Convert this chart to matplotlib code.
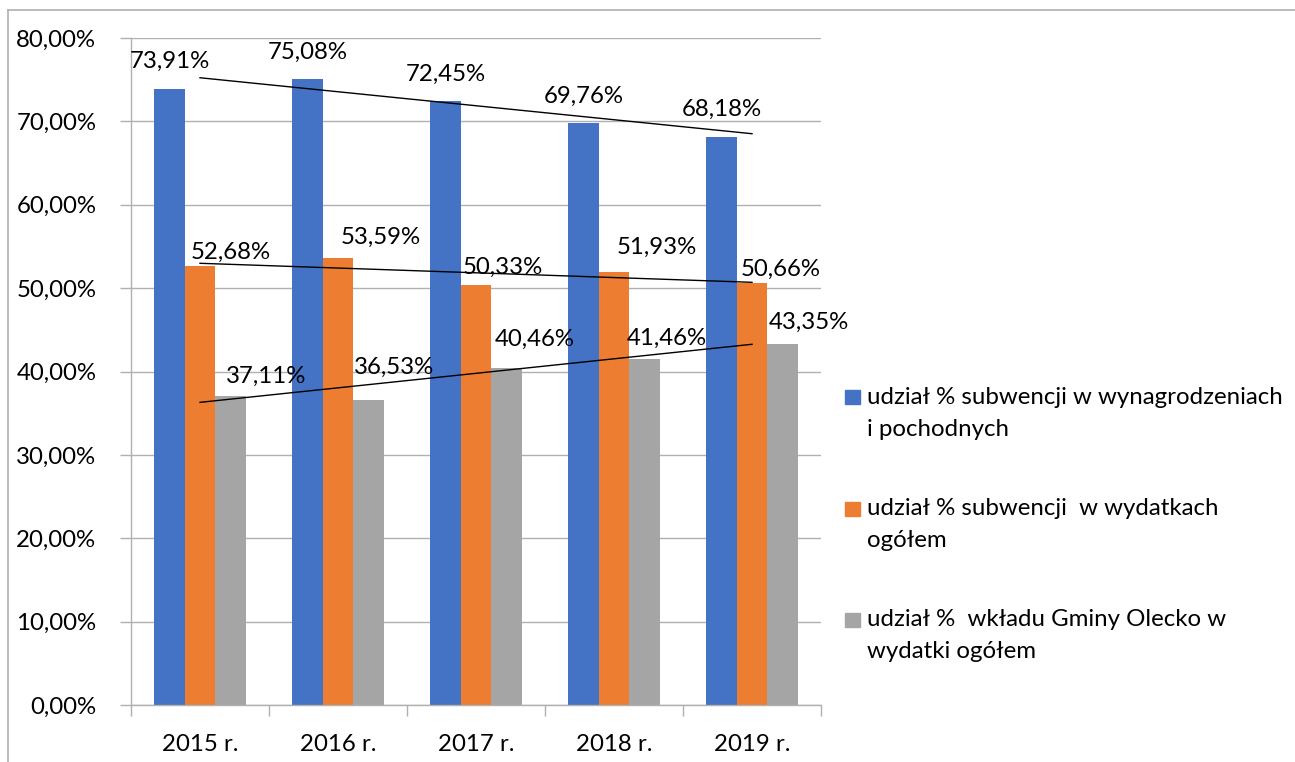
import numpy as np
import matplotlib
matplotlib.use("Agg")
import matplotlib.pyplot as plt
from matplotlib.patches import Rectangle
from matplotlib.lines import Line2D

plt.rcParams['font.family'] = ['Lato', 'DejaVu Sans']

# data
years = ["2015 r.", "2016 r.", "2017 r.", "2018 r.", "2019 r."]
s_wynagrodzenia = [73.91, 75.08, 72.45, 69.76, 68.18]
s_wydatki = [52.68, 53.59, 50.33, 51.93, 50.66]
s_gmina = [37.11, 36.53, 40.46, 41.46, 43.35]
series_names = [
    "udział % subwencji w wynagrodzeniach\ni pochodnych",
    "udział % subwencji  w wydatkach\nogółem",
    "udział %  wkładu Gminy Olecko w\nwydatki ogółem",
]
yticks = [0, 10, 20, 30, 40, 50, 60, 70, 80]

colors = ["#4472C4", "#ED7D31", "#A5A5A5"]
# label offsets in pixels (dx, dy) from bar top centre, labels were moved by hand in the original
label_offsets = [
    [(0, 27)] * 5,
    [(31, 13), (43, 21), (27, 18), (43, 25), (29, 13)],
    [(36, 19), (26, 33), (28, 28), (22, 21), (27, 21)],
]
FS = 17.3

W, H = 1295, 762
fig = plt.figure(figsize=(W / 100, H / 100), dpi=100)
ax = fig.add_axes([131 / W, 1 - 705 / H, 690 / W, 667 / H])

def pct(v):
    return f"{v:.2f}%".replace(".", ",")

x = np.arange(len(years))
bw = 0.22
all_series = [s_wynagrodzenia, s_wydatki, s_gmina]
for i, vals in enumerate(all_series):
    xs = x + (i - 1) * bw
    ax.bar(xs, vals, width=bw, color=colors[i], zorder=2)
    for xi, v, (dx, dy) in zip(xs, vals, label_offsets[i]):
        ax.annotate(pct(v), (xi, v), xytext=(dx, dy), textcoords="offset pixels",
                    ha="center", va="center", fontsize=FS, color="black", zorder=5)
    # linear trendline
    k, b = np.polyfit(x, vals, 1)
    ax.plot([x[0], x[-1]], [b, k * x[-1] + b], color="black", lw=1.0, zorder=4)

ax.set_xlim(-0.5, len(years) - 0.5)
ax.set_ylim(0, 80)
ax.set_yticks(yticks)
ax.set_yticklabels([pct(t) for t in yticks], fontsize=FS)
ax.set_xticks(np.arange(len(years) + 1) - 0.5, minor=False)
ax.set_xticklabels([])
ax.set_xticks(x, minor=True)
ax.set_xticklabels(years, minor=True, fontsize=FS)
ax.tick_params(axis="x", which="minor", length=0, pad=21)
ax.tick_params(axis="x", which="major", length=8, color="#b0b0b0", width=1.0)
ax.tick_params(axis="y", length=8, color="#b0b0b0", width=1.0, pad=17)
ax.yaxis.grid(True, color="#b0b0b0", lw=1.0, zorder=0)
ax.set_axisbelow(True)
for sp in ["top", "right"]:
    ax.spines[sp].set_visible(False)
for sp in ["left", "bottom"]:
    ax.spines[sp].set_color("#b0b0b0")
    ax.spines[sp].set_linewidth(1.0)

# legend drawn by hand to match layout
for i, name in enumerate(series_names):
    y0 = 397 + i * 111.5
    fig.add_artist(Rectangle((845 / W, 1 - (y0 + 7) / H), 15 / W, 14 / H,
                             transform=fig.transFigure, color=colors[i]))
    for j, line in enumerate(name.split("\n")):
        fig.text(867 / W, 1 - (y0 + j * 32) / H, line, ha="left", va="center",
                 fontsize=FS)

# chart frame (cropped on the right and bottom)
fig.add_artist(Line2D([8 / W, 8 / W], [0, 1 - 10 / H], transform=fig.transFigure,
                      color="#b0b0b0", lw=1.2))
fig.add_artist(Line2D([8 / W, 1], [1 - 10 / H, 1 - 10 / H], transform=fig.transFigure,
                      color="#b0b0b0", lw=1.2))

fig.savefig("out.png", dpi=100)
